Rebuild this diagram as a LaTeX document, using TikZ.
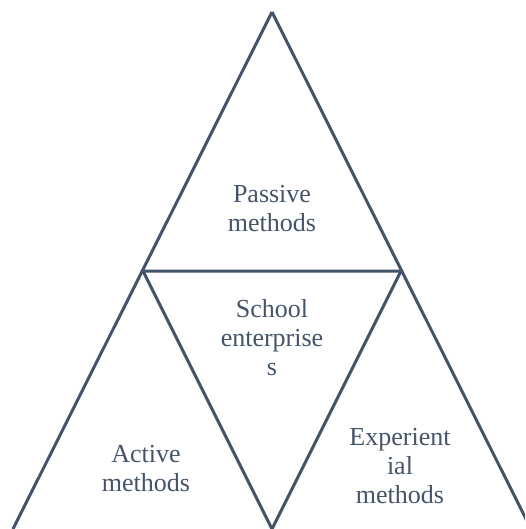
\documentclass[tikz,border=0pt]{standalone}
\usepackage{fontspec}
\setmainfont{Liberation Serif}
\definecolor{slate}{HTML}{44546A}
\begin{document}
\begin{tikzpicture}[x=1pt,y=-1pt,
  edge/.style={draw=slate,line width=3pt,line join=miter},
  lbl/.style={text=slate,font=\fontsize{26}{29}\selectfont,align=center,inner sep=0pt}]
\useasboundingbox (0,0) rectangle (525,529);
\clip (0,0) rectangle (525,529);
\coordinate (A) at (272,12);
\coordinate (L) at (143,271);
\coordinate (R) at (401,271);
\coordinate (M) at (272,529);
\coordinate (BL) at (13,529);
\coordinate (BR) at (531,529);
\draw[edge] (A) -- (BL);
\draw[edge] (A) -- (BR);
\draw[edge] (L) -- (R) -- (M) -- cycle;
\node[lbl] (passive) at (272,208.5) {Passive\\methods};
\node[lbl] (school) at (272,338) {School\\enterprise\\s};
\node[lbl] (active) at (146,468.5) {Active\\methods};
\node[lbl] (exper) at (400,466.5) {Experient\\ial\\methods};
\end{tikzpicture}
\end{document}
